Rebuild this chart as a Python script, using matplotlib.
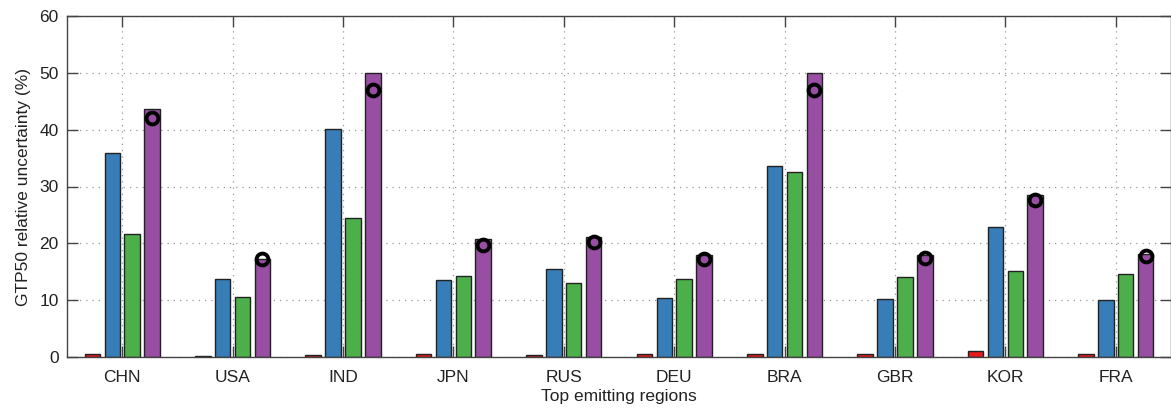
import matplotlib.pyplot as plt
import numpy as np

plt.rcParams['font.family'] = ['Liberation Sans', 'DejaVu Sans']

# Set1-like palette
colors = ["#E41A1C", "#377EB8", "#4DAF4A", "#984EA3"]

regions = ["CHN", "USA", "IND", "JPN", "RUS", "DEU", "BRA", "GBR", "KOR", "FRA"]
red = [0.6, 0.25, 0.35, 0.47, 0.3, 0.5, 0.6, 0.47, 1.05, 0.47]
blue = [35.9, 13.7, 40.1, 13.6, 15.5, 10.3, 33.6, 10.2, 22.9, 10.0]
green = [21.7, 10.6, 24.4, 14.2, 13.0, 13.8, 32.6, 14.1, 15.1, 14.6]
purple = [43.7, 17.3, 50.0, 20.7, 21.1, 17.9, 50.0, 17.9, 28.5, 18.2]
circles = [42.0, 17.2, 47.0, 19.7, 20.2, 17.3, 46.9, 17.4, 27.6, 17.7]

x = np.arange(1, len(regions) + 1)
width = 0.14
offsets = [-0.27, -0.09, 0.09, 0.27]

fig = plt.figure(figsize=(11.71, 4.12), dpi=100)
ax = fig.add_axes([67/1171, 1 - 357/412, 1104/1171, (357 - 16)/412])

for vals, off, c in zip([red, blue, green, purple], offsets, colors):
    ax.bar(x + off, vals, width, color=c, edgecolor="#222222", linewidth=1.0, zorder=2)

ax.plot(x + offsets[3], circles, linestyle="none", marker="o", markersize=8.5,
        markerfacecolor="none", markeredgecolor="black", markeredgewidth=2.8, zorder=3)

ax.set_xlim(0.5, 10.5)
ax.set_ylim(0, 60)
ax.set_xticks(x)
ax.set_xticklabels(regions, fontsize=12.5, color="#222222")
ax.set_yticks(np.arange(0, 61, 10))
ax.tick_params(axis="y", labelsize=12.5, labelcolor="#222222", pad=6)
ax.tick_params(axis="x", pad=9)
ax.tick_params(direction="in", length=8, width=1.0, color="#444444",
               top=True, right=True)
ax.grid(True, linestyle=(0, (1, 4)), color="#999999", linewidth=0.9)
ax.set_axisbelow(True)
for s in ax.spines.values():
    s.set_color("#444444")
    s.set_linewidth(1.0)

ax.set_xlabel("Top emitting regions", fontsize=12.5, color="#222222", labelpad=3)
ax.set_ylabel("GTP50 relative uncertainty (%)", fontsize=12.5, color="#222222", labelpad=6)

plt.savefig("out.png", dpi=100)
